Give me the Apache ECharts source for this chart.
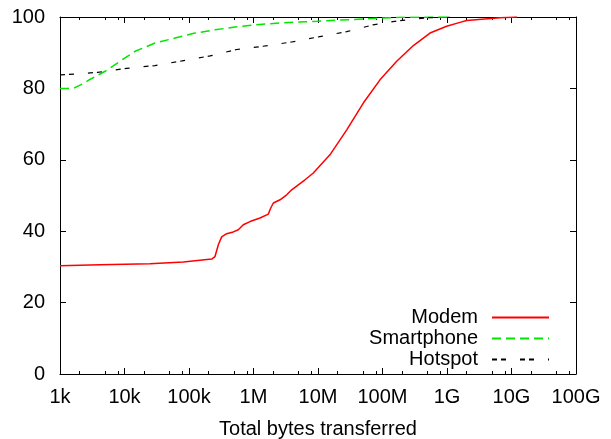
<!DOCTYPE html>
<html>
<head>
<meta charset="utf-8">
<script src="https://cdn.jsdelivr.net/npm/echarts@6/dist/echarts.min.js"></script>
<style>
html,body{margin:0;padding:0;background:#fff;}
#c{width:611px;height:439px;}
</style>
</head>
<body>
<div id="c"></div>
<script>
// ---- data ----
const tickValues = [1e3, 1e4, 1e5, 1e6, 1e7, 1e8, 1e9, 1e10, 1e11];
const tickLabels = ['1k', '10k', '100k', '1M', '10M', '100M', '1G', '10G', '100G'];
const minorTickValues = [2e3,5e3,8e3, 2e4,5e4,8e4, 2e5,5e5,8e5, 2e6,5e6,8e6, 2e7,5e7,8e7, 2e8,5e8,8e8, 2e9,5e9,8e9, 2e10,5e10,8e10];
const yTicks = [0, 20, 40, 60, 80, 100];

const modemX = [1e3, 4.17e3, 24.8e3, 81.7e3, 225e3, 253e3, 285e3, 321e3, 384e3, 486e3, 581e3, 695e3, 883e3, 1.26e6, 1.70e6, 1.85e6, 2.03e6, 2.58e6, 3.27e6, 3.91e6, 4.95e6, 6.29e6, 8.46e6, 15.3e6, 27.9e6, 50.4e6, 91.4e6, 166e6, 301e6, 545e6, 988e6, 1.59e9, 2.02e9, 6.64e9, 12.2e9];
const modemY = [30.3, 30.6, 30.9, 31.4, 32.2, 32.9, 36.2, 38.4, 39.3, 39.8, 40.4, 41.8, 42.7, 43.7, 44.8, 46.5, 47.9, 48.8, 50.2, 51.6, 53.0, 54.4, 56.3, 61.4, 68.4, 75.9, 82.4, 87.6, 92.0, 95.5, 97.4, 98.5, 99.0, 99.8, 100];

const smartX = [1e3, 1.3e3, 1.7e3, 2.2e3, 2.9e3, 5e3, 8.5e3, 14.6e3, 29.7e3, 60.7e3, 124e3, 253e3, 516e3, 1.05e6, 3e6, 9.6e6, 57e6, 186e6, 1e9];
const smartY = [80.0, 80.0, 80.2, 81.2, 82.5, 84.8, 87.6, 90.4, 92.7, 94.1, 95.5, 96.4, 97.2, 97.8, 98.4, 98.8, 99.5, 99.9, 100];

const hotX = [1e3, 1.35e3, 3.84e3, 10.8e3, 29.7e3, 77.8e3, 212e3, 549e3, 1.4e6, 3.91e6, 10.7e6, 27.9e6, 71.3e6, 187e6, 507e6, 1.1e9];
const hotY = [83.8, 83.9, 84.5, 85.6, 86.4, 87.7, 89.1, 90.9, 91.8, 93.0, 94.5, 95.9, 97.8, 99.0, 99.8, 100];

const pairs = (xs, ys) => xs.map((x, i) => [x, ys[i]]);

const FONT = 'Liberation Sans';
const FS = 20;
const chart = echarts.init(document.getElementById('c'), null, {renderer: 'canvas'});

function xAx(position, ticks, len, showLine, showLabel, extra) {
  return Object.assign({
    type: 'log', logBase: 10, min: 1e3, max: 1e11, position: position,
    axisLine: {show: showLine, onZero: false, lineStyle: {color: '#000', width: 1}},
    axisTick: {show: true, inside: true, length: len, customValues: ticks, lineStyle: {color: '#000', width: 1}},
    axisLabel: showLabel ? {
      show: true, customValues: tickValues, margin: 13, color: '#000', fontFamily: FONT, fontSize: FS,
      formatter: v => tickLabels[Math.round(Math.log10(v)) - 3]
    } : {show: false},
    splitLine: {show: false}, minorTick: {show: false}
  }, extra || {});
}
function yAx(position, showLabel) {
  return {
    type: 'value', min: 0, max: 100, interval: 20, position: position,
    axisLine: {show: true, lineStyle: {color: '#000', width: 1}},
    axisTick: {show: true, inside: true, length: 6, lineStyle: {color: '#000', width: 1}},
    axisLabel: showLabel ? {show: true, margin: 15, color: '#000', fontFamily: FONT, fontSize: FS} : {show: false},
    splitLine: {show: false}
  };
}

chart.setOption({
  animation: false,
  backgroundColor: '#fff',
  grid: {left: 60, right: 35, top: 17, bottom: 65, containLabel: false, outerBoundsMode: 'none'},
  xAxis: [
    xAx('bottom', tickValues, 6, true, true, {
      name: 'Total bytes transferred', nameLocation: 'middle', nameGap: 45,
      nameTextStyle: {color: '#000', fontFamily: FONT, fontSize: FS}
    }),
    xAx('bottom', minorTickValues, 3, false, false),
    xAx('top', tickValues, 6, true, false),
    xAx('top', minorTickValues, 3, false, false)
  ],
  yAxis: [yAx('left', true), yAx('right', false)],
  legend: {
    data: ['Modem', 'Smartphone', 'Hotspot'],
    orient: 'vertical', align: 'right', right: 61, top: 307,
    itemWidth: 57, itemHeight: 10, itemGap: 0, padding: 0,
    itemStyle: {opacity: 0, borderWidth: 0},
    textStyle: {color: '#000', fontFamily: FONT, fontSize: FS, lineHeight: 21, padding: [0, 9, 0, 0]}
  },
  series: [
    {name: 'Modem', type: 'line', xAxisIndex: 0, yAxisIndex: 0, symbol: 'none', data: pairs(modemX, modemY),
     color: '#ff0000', lineStyle: {color: '#ff0000', width: 1.5, type: 'solid'}},
    {name: 'Smartphone', type: 'line', xAxisIndex: 0, yAxisIndex: 0, symbol: 'none', data: pairs(smartX, smartY),
     color: '#00e600', lineStyle: {color: '#00e600', width: 1.5, type: [9, 5]}},
    {name: 'Hotspot', type: 'line', xAxisIndex: 0, yAxisIndex: 0, symbol: 'none', data: pairs(hotX, hotY),
     color: '#000000', lineStyle: {color: '#000000', width: 1.2, type: [5, 4, 5, 14]}}
  ]
});
</script>
</body>
</html>
